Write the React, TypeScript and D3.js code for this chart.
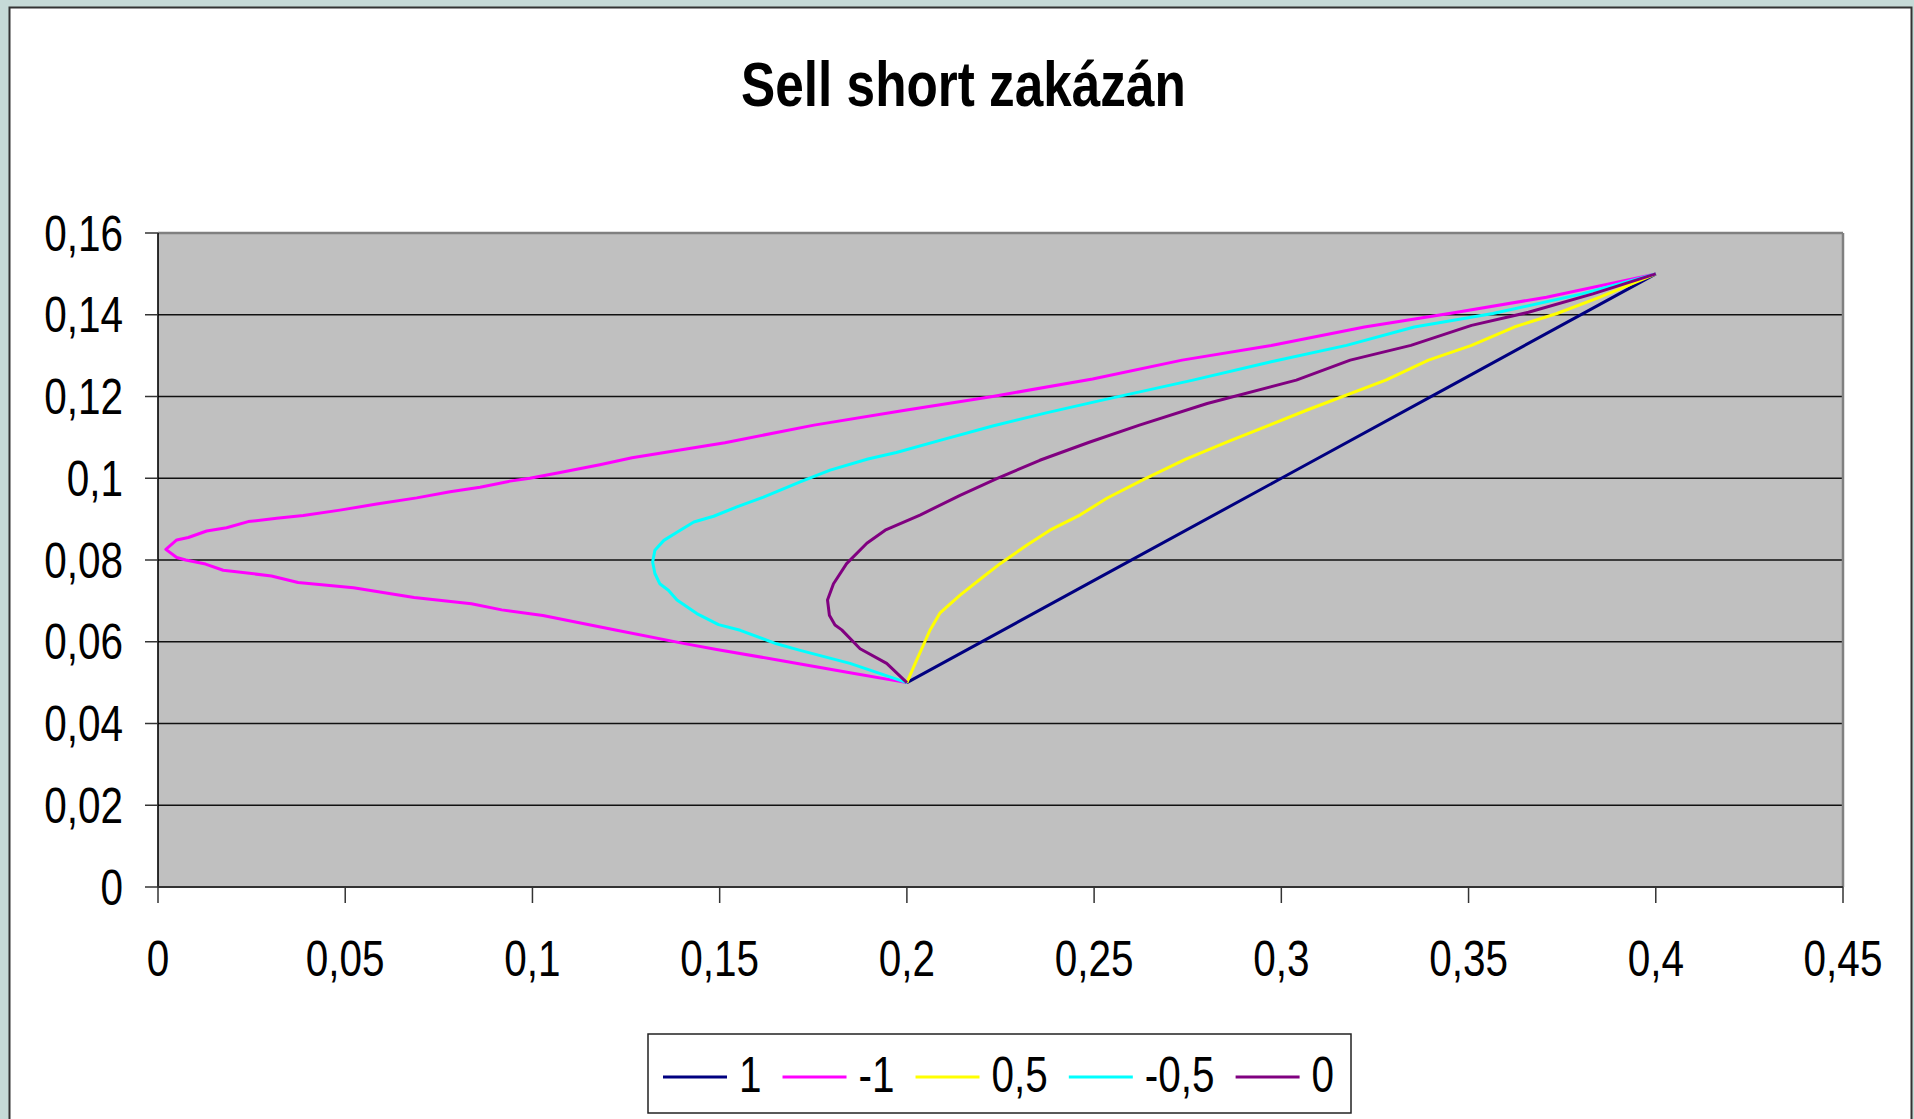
import React from 'react';
import * as d3 from 'd3';

// portfolio frontiers (sigma, expected return), one per correlation
const seriesNames = ['1', '-1', '0,5', '-0,5', '0'];
const seriesColors = ['#000080', '#FF00FF', '#FFFF00', '#00FFFF', '#800080'];

const rhoPlus1: [number, number][] = [
  [0.2, 0.05], [0.25, 0.075], [0.3, 0.1], [0.35, 0.125], [0.4, 0.15],
];

const rhoMinus1: [number, number][] = [
  [0.2, 0.05], [0.1848, 0.0524], [0.167, 0.0553], [0.1492, 0.0581], [0.1403, 0.0596],
  [0.1225, 0.0628], [0.1028, 0.0664], [0.0918, 0.0678], [0.0837, 0.0693], [0.0684, 0.0708],
  [0.0522, 0.0732], [0.0374, 0.0745], [0.0303, 0.0761], [0.0174, 0.0775], [0.0127, 0.079],
  [0.0074, 0.08], [0.005, 0.0806], [0.0021, 0.0826], [0.005, 0.0849], [0.0081, 0.0855],
  [0.013, 0.0871], [0.0183, 0.0879], [0.0241, 0.0894], [0.0317, 0.0902], [0.0388, 0.0909],
  [0.0486, 0.0922], [0.0584, 0.0937], [0.0691, 0.0952], [0.078, 0.0967], [0.086, 0.0978],
  [0.094, 0.0993], [0.0993, 0.1], [0.1074, 0.1014], [0.118, 0.1033], [0.1266, 0.105],
  [0.1514, 0.1087], [0.1752, 0.113], [0.1991, 0.1166], [0.2229, 0.12], [0.2496, 0.1243],
  [0.2735, 0.1289], [0.2973, 0.1325], [0.3222, 0.137], [0.3469, 0.1406], [0.3708, 0.1443],
  [0.4, 0.15],
];

const rhoPlusHalf: [number, number][] = [
  [0.2, 0.05], [0.2026, 0.0555], [0.2048, 0.06], [0.2062, 0.0629], [0.2088, 0.067],
  [0.2142, 0.0714], [0.2204, 0.0759], [0.2249, 0.0791], [0.232, 0.0836], [0.2382, 0.0873],
  [0.2462, 0.091], [0.2534, 0.0951], [0.263, 0.0996], [0.2745, 0.1047], [0.2859, 0.109],
  [0.3069, 0.1167], [0.3279, 0.124], [0.3393, 0.1289], [0.3508, 0.1325], [0.3622, 0.137],
  [0.3736, 0.1403], [0.3851, 0.1443], [0.4, 0.15],
];

const rhoMinusHalf: [number, number][] = [
  [0.2, 0.05], [0.1848, 0.0547], [0.1715, 0.0579], [0.1652, 0.0595], [0.1555, 0.0628],
  [0.1497, 0.0642], [0.1439, 0.0669], [0.1386, 0.0702], [0.1363, 0.0726], [0.134, 0.0742],
  [0.1327, 0.0767], [0.1321, 0.0795], [0.1327, 0.0824], [0.1351, 0.0848], [0.1386, 0.0868],
  [0.1431, 0.0893], [0.1484, 0.0907], [0.1546, 0.093], [0.1617, 0.0954], [0.1715, 0.0991],
  [0.1795, 0.102], [0.1896, 0.1047], [0.1972, 0.1063], [0.2086, 0.1092], [0.2229, 0.1128],
  [0.2372, 0.116], [0.2516, 0.119], [0.2764, 0.124], [0.2973, 0.1285], [0.3174, 0.1325],
  [0.3355, 0.137], [0.3565, 0.1403], [0.3803, 0.1451], [0.4, 0.15],
];

const rhoZero: [number, number][] = [
  [0.2, 0.05], [0.1946, 0.0547], [0.1875, 0.0583], [0.1826, 0.0629], [0.1808, 0.0641],
  [0.1793, 0.0665], [0.1788, 0.0702], [0.1804, 0.0742], [0.1839, 0.0791], [0.1893, 0.0841],
  [0.1942, 0.0873], [0.2035, 0.091], [0.2142, 0.0958], [0.224, 0.0999], [0.2355, 0.1044],
  [0.2487, 0.1088], [0.2621, 0.113], [0.2802, 0.1183], [0.304, 0.124], [0.3184, 0.1289],
  [0.3346, 0.1325], [0.3508, 0.1374], [0.366, 0.1406], [0.3832, 0.1451], [0.4, 0.15],
];

const allSeries = [rhoPlus1, rhoMinus1, rhoPlusHalf, rhoMinusHalf, rhoZero];

const xDomain = [0, 0.45];
const yDomain = [0, 0.16];

const W = 1914;
const H = 1119;
const FONT = '"Liberation Sans", Arial, sans-serif';
const STRETCH = 1.22; // text in the picture is drawn taller than it is wide

const csLocale = d3.formatLocale({ decimal: ',', thousands: ' ', grouping: [3], currency: ['', ''] });
const fmt = csLocale.format('~g');

// rough Arial advance widths, used to lay out the legend
const textWidth = (s: string, size: number) =>
  s.split('').reduce((acc, ch) => acc + (ch === '-' ? 0.333 : ch === ',' ? 0.278 : 0.556), 0) * size;

const Label = ({ x, y, anchor = 'start', size = 40.5, bold = false, children }: any) => (
  <g transform={`translate(${x},${y}) scale(1,${STRETCH})`}>
    <text x={0} y={0} textAnchor={anchor} fontFamily={FONT} fontSize={size} fontWeight={bold ? 'bold' : 'normal'} fill="#000">
      {children}
    </text>
  </g>
);

export default function App() {
  const left = 158, right = 1843, top = 233, bottom = 887;

  const x = d3.scaleLinear().domain(xDomain).range([left, right]);
  const y = d3.scaleLinear().domain(yDomain).range([bottom, top]);

  const line = d3.line<[number, number]>()
    .x(d => x(d[0]))
    .y(d => y(d[1]));

  const xTicks = x.ticks(9);
  const yTicks = y.ticks(8);

  // legend layout
  const legendY = 1077;
  let cursor = 663;
  const legendItems = seriesNames.map((name, i) => {
    const item = { name, color: seriesColors[i], x: cursor };
    cursor += 64 + 12 + textWidth(name, 40.5) + 21;
    return item;
  });

  return (
    <svg width={W} height={H} style={{ position: 'absolute', left: 0, top: 0, display: 'block' }}>
      <rect x={0} y={0} width={W} height={H} fill="#C6DAD7" />
      <rect x={9.5} y={7.5} width={1902} height={1200} fill="#fff" stroke="#333" strokeWidth={2} />

      <Label x={963.5} y={106} anchor="middle" size={51.3} bold>Sell short zakázán</Label>

      {/* plot area */}
      <rect x={left} y={top} width={right - left} height={bottom - top} fill="#C0C0C0" />
      {yTicks.filter(t => t > 0 && t < yDomain[1]).map(t => (
        <line key={t} x1={left} x2={right} y1={y(t)} y2={y(t)} stroke="#111" strokeWidth={1.4} />
      ))}
      <line x1={left} x2={right} y1={top} y2={top} stroke="#808080" strokeWidth={2.5} />
      <line x1={right} x2={right} y1={top} y2={bottom} stroke="#808080" strokeWidth={2.5} />
      <line x1={left} x2={left} y1={top} y2={bottom} stroke="#000" strokeWidth={1.6} />
      <line x1={left} x2={right} y1={bottom} y2={bottom} stroke="#333" strokeWidth={2} />

      {yTicks.map(t => (
        <g key={'y' + t}>
          <line x1={left - 13} x2={left} y1={y(t)} y2={y(t)} stroke="#333" strokeWidth={1.5} />
          <Label x={123} y={y(t) + 17.5} anchor="end">{fmt(t)}</Label>
        </g>
      ))}
      {xTicks.map(t => (
        <g key={'x' + t}>
          <line x1={x(t)} x2={x(t)} y1={bottom} y2={bottom + 16} stroke="#333" strokeWidth={1.5} />
          <Label x={x(t)} y={976} anchor="middle">{fmt(t)}</Label>
        </g>
      ))}

      {allSeries.map((s, i) => (
        <path key={i} d={line(s) || ''} fill="none" stroke={seriesColors[i]} strokeWidth={3} strokeLinejoin="round" />
      ))}

      {/* legend */}
      <rect x={648} y={1034} width={703} height={79} fill="#fff" stroke="#222" strokeWidth={1.5} />
      {legendItems.map(item => (
        <g key={item.name}>
          <line x1={item.x} x2={item.x + 64} y1={legendY} y2={legendY} stroke={item.color} strokeWidth={3} />
          <Label x={item.x + 76} y={1092}>{item.name}</Label>
        </g>
      ))}
    </svg>
  );
}
